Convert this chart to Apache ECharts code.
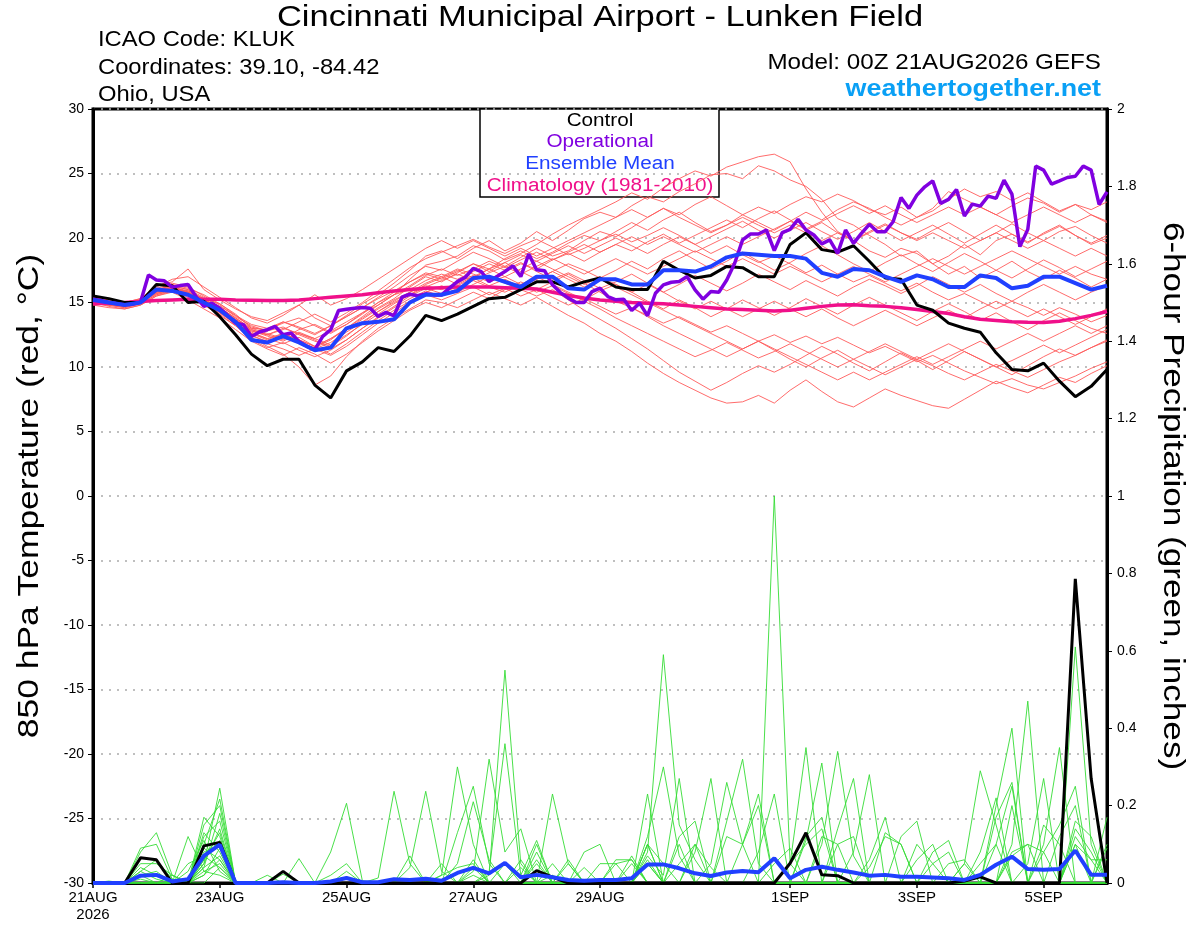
<!DOCTYPE html>
<html lang="en">
<head>
<meta charset="UTF-8">
<title>GEFS 850 hPa Temperature - KLUK</title>
<script src="https://cdn.jsdelivr.net/npm/echarts@6/dist/echarts.min.js"></script>
<style>
    html, body { margin: 0; padding: 0; background: #fff; }
    #main { width: 1200px; height: 927px; }
</style>
</head>
<body>
<div id="main"></div>
<script>
    // forecast hours of the x axis labels (00Z 21AUG2026 = hour 0)
    var tickHours = [0, 48, 96, 144, 192, 264, 312, 360];
    var tickLabels = ['21AUG\n2026', '23AUG', '25AUG', '27AUG', '29AUG', '1SEP', '3SEP', '5SEP'];

    // 850 hPa temperature, 6-hourly (deg C)
    var controlTemp = [15.5,15.3,15.0,15.0,16.4,16.3,15.0,15.1,13.9,12.5,11.0,10.1,10.6,10.6,8.6,7.6,9.7,10.4,11.5,11.2,12.4,14.0,
        13.6,14.1,14.7,15.3,15.4,16.0,16.6,16.6,16.2,16.6,16.9,16.2,16.0,16.0,18.2,17.5,16.9,17.1,17.8,17.7,17.0,17.0,
        19.5,20.4,19.1,18.9,19.4,18.2,16.9,16.8,14.8,14.4,13.4,13.0,12.7,11.1,9.8,9.7,10.3,8.9,7.7,8.5,9.8];
    var meanTemp = [15.2,15.0,14.8,15.0,16.0,15.9,15.6,15.0,14.4,13.5,12.1,11.9,12.4,11.9,11.3,11.5,13.0,13.4,13.5,13.7,15.0,15.6,
        15.6,15.9,16.9,17.0,16.6,16.2,17.0,17.0,16.1,16.0,16.8,16.8,16.4,16.4,17.5,17.5,17.4,17.8,18.5,18.8,18.7,18.6,
        18.6,18.4,17.3,17.0,17.6,17.5,17.0,16.6,17.1,16.8,16.2,16.2,17.1,16.9,16.1,16.3,17.0,17.0,16.5,16.0,16.3];
    var climTemp = [14.9,14.95,15.0,15.08,15.15,15.2,15.25,15.25,15.25,15.2,15.18,15.15,15.15,15.2,15.3,15.4,15.5,15.6,15.75,15.9,
        16.0,16.1,16.15,16.2,16.2,16.2,16.15,16.1,16.05,15.8,15.55,15.35,15.2,15.1,15.0,14.95,14.9,14.8,14.7,14.6,
        14.5,14.45,14.4,14.35,14.4,14.55,14.7,14.8,14.82,14.75,14.7,14.6,14.45,14.3,14.15,13.9,13.7,13.6,13.5,13.47,
        13.45,13.55,13.75,14.0,14.3];
    // operational run, 3-hourly
    var operTemp = [15.26,15.15,15.0,14.9,14.82,14.87,15.03,17.14,16.75,16.68,16.19,16.31,16.39,15.46,14.69,14.95,14.56,14.0,13.4,13.27,
        12.37,12.71,12.89,13.14,12.5,12.63,11.98,11.6,11.34,12.37,12.89,14.38,14.48,14.56,14.61,14.56,13.92,14.23,13.97,15.41,
        15.64,15.52,15.67,15.59,15.59,16.11,16.62,16.96,17.65,17.4,16.62,17.01,17.4,17.84,17.01,18.76,17.53,17.47,16.37,15.77,
        15.34,15.0,15.0,15.85,16.11,15.46,15.21,15.26,14.38,14.95,13.97,15.72,16.37,16.57,16.62,17.01,15.98,15.26,15.85,15.8,
        16.75,18.04,19.85,20.31,20.31,20.62,19.02,20.41,20.67,21.44,20.62,20.23,19.54,19.85,18.81,20.62,19.59,20.36,21.06,20.49,
        20.49,21.26,23.14,22.29,23.32,23.97,24.43,22.68,22.99,23.76,21.7,22.63,22.47,23.25,23.07,24.48,23.4,19.33,20.67,25.57,
        25.26,24.18,24.43,24.69,24.79,25.57,25.26,22.6,23.58];

    // ensemble members, 6-hourly
    var tempMember01 = [15.2,15.0,14.8,15.1,16.0,16.3,16.0,15.2,14.5,13.6,12.8, 12.5,13.0,12.6,12.2,12.8,13.5,14.2,14.8,15.6,16.8,17.9,
        18.2,18.6,19.4,19.0,18.3,18.8,19.5,20.3,21.0,21.6,22.2, 22.8,23.5,23.0,23.9,24.6,25.2,24.8,25.5,25.9,26.3,26.5,
        25.9,23.8,22.0,20.5,19.8,19.0,18.5,19.2,18.8,18.0,18.6, 19.5,18.7,19.8,20.3,19.6,20.4,21.0,20.2,19.5,20.0];
    var tempMember02 = [15.0,14.9,14.7,15.0,15.8,16.5,16.2,15.5,14.8,13.9,13.2, 12.8,13.5,13.0,12.5,13.2,14.0,14.9,15.6,16.5,17.5,18.6,
        19.0,18.4,19.2,19.8,19.0,19.6,20.5,19.8,20.6,21.5,22.0, 21.6,22.5,23.2,22.8,23.6,24.2,24.9,25.0,24.6,25.6,25.2,
        24.5,24.0,23.0,21.5,21.0,20.2,19.5,18.6,19.0,18.0,17.2, 17.8,16.9,17.5,18.2,17.4,16.8,17.5,16.9,16.2,16.8];
    var tempMember03 = [15.3,15.1,15.0,15.3,16.3,16.6,17.6,16.0,15.2,14.5,13.9, 13.6,14.2,14.8,13.8,13.2,13.9,14.6,15.4,16.2,17.1,17.8,
        17.5,18.2,18.9,18.4,17.8,18.5,19.2,18.6,19.0,19.8,20.5, 20.1,20.8,21.6,22.3,21.8,22.6,23.2,22.5,21.8,22.4,21.9,
        22.6,23.2,22.8,23.4,22.9,22.2,21.8,22.4,21.6,22.1,23.0, 23.8,23.2,23.6,22.9,23.5,22.8,22.1,22.6,21.8,21.2];
    var tempMember04 = [15.1,14.9,14.8,15.2,15.9,16.2,15.7,15.0,14.2,13.3,12.4, 12.0,12.3,11.9,11.5,12.1,13.0,13.8,14.6,15.3,16.2,17.0,
        16.6,17.3,18.0,17.6,18.4,19.0,18.4,18.9,19.6,20.2,19.8, 20.5,21.2,20.6,21.4,22.0,21.2,20.5,21.0,21.8,21.2,20.6,
        21.3,22.0,21.4,22.2,22.8,22.3,21.6,21.0,21.6,22.3,23.6, 23.0,22.4,21.8,22.5,23.1,22.7,22.0,22.6,22.2,22.8];
    var tempMember05 = [14.9,14.8,14.6,14.9,15.6,16.0,15.9,15.3,14.9,14.1,13.0, 12.6,12.2,12.9,13.3,12.7,13.3,14.1,15.0,15.8,16.6,17.3,
        17.0,17.6,17.2,16.8,17.4,18.0,17.6,18.3,18.8,18.2,18.9, 19.5,19.0,19.7,20.3,19.6,20.2,20.8,21.4,20.8,21.5,22.1,
        21.4,20.6,21.2,20.4,19.8,20.5,21.1,20.4,19.9,20.6,21.2, 20.5,19.8,20.4,21.1,20.4,19.8,20.5,20.9,20.2,19.6];
    var tempMember06 = [15.4,15.2,15.0,15.2,16.1,16.4,16.1,15.6,14.9,14.0,13.1, 12.8,13.1,12.5,12.0,11.6,12.4,13.4,14.3,15.0,15.6,16.4,
        16.9,17.5,16.9,17.6,18.1,17.4,16.8,17.4,18.0,17.5,16.9, 17.5,18.2,17.6,18.4,19.0,18.3,17.6,18.2,18.9,18.2,17.5,
        18.1,18.8,19.4,18.7,18.0,17.4,18.1,18.7,18.0,17.4,18.1, 18.8,18.2,17.5,16.9,17.6,18.3,17.7,17.0,17.6,18.2];
    var tempMember07 = [15.0,14.7,14.5,14.8,15.5,15.9,15.4,14.8,14.0,13.2,12.1, 11.5,11.9,11.3,10.8,11.3,12.1,13.0,13.8,14.6,15.3,15.9,
        15.5,16.1,16.7,16.2,15.8,16.4,17.0,16.4,15.8,15.2,15.9, 16.4,15.8,15.1,14.5,15.2,14.6,13.9,14.5,15.2,14.6,14.0,
        14.6,15.3,14.7,14.1,14.8,15.4,14.8,14.2,13.6,14.3,14.9, 14.3,13.6,14.2,13.5,12.9,13.6,14.2,13.6,13.0,12.6];
    var tempMember08 = [15.2,15.0,14.9,15.1,15.9,16.2,15.8,15.1,14.3,13.3,12.3, 11.6,11.0,10.0,8.6,9.3,10.8,12.0,13.0,13.8,14.5,15.2,
        15.0,14.6,15.2,15.8,15.3,14.8,15.4,14.7,14.0,13.4,12.6, 12.0,11.2,10.3,9.5,8.8,8.2,7.6,7.2,7.3,7.8,7.2,
        8.2,9.0,8.1,7.3,6.9,7.6,8.3,7.8,7.4,7.0,6.8, 7.5,8.2,8.9,8.4,8.0,8.6,9.2,8.8,9.5,10.1];
    var tempMember09 = [15.1,14.9,14.7,15.0,15.7,16.0,15.6,15.0,14.4,13.6,12.7, 12.2,11.8,12.3,11.6,11.0,11.8,12.7,13.6,14.4,15.1,15.8,
        16.3,15.8,16.4,17.0,16.5,16.0,15.5,16.0,15.2,14.4,13.7, 13.0,12.2,11.4,10.5,9.6,8.9,8.2,8.8,9.5,10.1,9.6,
        10.2,10.9,11.6,11.0,10.3,9.7,10.4,11.1,10.5,9.8,10.5, 11.2,10.6,10.0,9.4,10.1,10.8,11.4,10.9,11.5,12.0];
    var tempMember10 = [15.3,15.1,14.9,15.2,16.0,16.3,16.0,15.4,14.6,13.8,13.0, 12.9,13.4,13.8,13.2,12.6,13.3,14.2,15.0,15.6,16.0,16.7,
        17.2,16.8,17.4,18.0,17.5,18.1,17.4,16.8,17.3,16.7,16.1, 16.6,17.2,16.5,15.8,16.4,17.1,16.5,15.9,16.5,17.2,16.6,
        16.0,16.7,16.1,15.5,16.2,16.8,16.3,15.7,16.3,17.0,16.4, 15.8,16.4,15.7,15.1,15.8,16.4,15.8,15.2,15.8,16.3];
    var tempMember11 = [14.8,14.6,14.5,14.8,15.5,15.8,15.2,14.5,13.8,12.9,12.0, 11.4,10.9,11.5,11.0,10.3,11.0,11.9,12.8,13.6,14.4,15.0,
        14.6,15.2,15.8,15.3,16.0,16.6,16.0,16.6,17.2,16.5,15.8, 15.1,14.6,13.9,13.2,12.6,12.0,11.4,10.8,11.4,12.0,11.3,
        10.6,10.0,10.7,11.3,10.6,10.0,9.4,10.0,10.6,10.1,9.5, 9.0,9.6,10.2,9.7,9.2,9.8,10.4,10.9,11.5,12.1];
    var tempMember12 = [15.2,15.0,14.8,15.1,15.8,16.1,15.8,15.2,14.6,13.8,12.9, 12.5,12.9,13.5,14.1,13.5,14.2,15.0,15.9,16.8,17.7,18.4,
        18.9,19.4,19.9,19.3,18.8,19.4,19.9,19.3,18.7,19.2,19.8, 20.3,19.7,20.2,20.8,20.2,19.5,20.1,20.7,21.3,20.6,20.0,
        20.6,21.2,20.5,19.9,20.5,21.2,20.5,19.8,20.4,21.0,20.3, 19.6,20.3,21.0,20.3,19.7,20.3,20.9,20.2,19.6,20.2];
    var tempMember13 = [15.0,14.8,14.7,15.0,15.8,16.2,15.8,15.2,14.7,14.0,13.3, 13.0,13.5,13.1,12.6,13.2,13.9,14.6,15.3,15.9,16.6,17.2,
        16.8,17.4,18.0,17.4,18.1,18.7,18.2,18.8,19.4,18.8,19.4, 20.0,19.4,18.8,19.5,20.1,19.5,18.8,19.4,18.7,18.1,18.6,
        18.0,17.3,17.9,17.2,16.6,17.1,16.5,15.9,16.5,15.8,15.2, 15.7,15.1,14.5,15.1,14.6,14.0,14.6,14.1,13.5,14.0];
    var tempMember14 = [15.2,15.0,14.8,15.1,15.9,16.2,15.9,15.3,14.5,13.5,12.5, 11.9,12.4,12.0,11.4,11.9,12.7,13.5,14.3,15.1,15.8,16.3,
        16.0,16.5,17.1,16.6,17.0,16.4,15.8,16.3,15.7,15.1,14.5, 13.8,13.2,12.6,12.0,11.4,10.8,11.3,11.9,11.3,10.7,11.2,
        11.8,11.2,10.6,10.0,10.6,11.2,11.8,11.2,10.6,11.2,11.8, 11.2,10.6,10.0,10.5,11.1,11.7,11.1,11.7,12.3,12.9];
    var tempMember15 = [15.1,14.9,14.8,15.1,15.7,16.0,15.6,15.0,14.4,13.5,12.6, 12.1,12.6,12.1,11.6,12.2,12.9,13.7,14.5,15.2,15.8,16.5,
        17.0,16.4,17.0,17.6,17.0,17.6,18.2,17.6,17.0,16.4,17.0, 16.4,15.8,16.4,15.8,15.1,14.5,15.1,14.5,13.9,14.5,15.1,
        14.5,13.9,14.5,13.8,13.2,13.8,14.4,13.8,13.2,13.8,14.4, 13.8,14.5,15.1,14.5,13.9,14.5,13.9,13.3,13.9,14.5];
    var tempMember16 = [15.0,14.8,14.7,15.0,15.7,16.1,15.7,15.0,14.2,13.4,12.6, 12.2,12.6,12.1,11.6,12.2,13.0,13.9,14.8,15.6,16.3,17.1,
        17.6,17.1,17.6,18.2,17.7,18.3,18.9,18.3,18.9,19.5,18.9, 19.5,20.1,19.5,20.1,19.5,18.9,19.5,20.1,19.5,20.1,20.7,
        21.3,20.7,21.3,21.9,22.5,21.9,22.5,21.8,21.2,21.8,22.4, 21.8,22.4,21.8,21.2,21.8,22.4,21.8,21.2,21.8,21.3];
    var tempMember17 = [15.3,15.1,14.9,15.2,15.9,16.2,15.8,15.2,14.6,13.7,12.8, 12.4,12.0,12.6,12.1,11.4,12.1,13.0,13.9,14.7,15.5,16.1,
        15.7,16.3,16.9,16.3,16.8,16.2,16.8,17.4,16.8,16.2,16.8, 16.2,15.6,15.0,14.4,13.8,13.2,12.6,12.0,11.4,12.0,11.4,
        10.8,10.2,9.6,9.0,9.6,9.0,9.6,10.2,10.8,10.2,10.8, 11.4,12.0,11.4,12.0,12.6,12.0,12.6,13.2,12.6,13.2];
    var tempMember18 = [15.1,14.9,14.8,15.0,15.8,16.1,15.7,15.1,14.5,13.7,12.9, 12.5,12.1,12.7,12.2,11.7,12.5,13.3,14.1,14.9,15.6,16.2,
        16.7,17.2,16.7,17.3,17.8,17.2,17.8,18.4,17.8,17.2,17.8, 18.4,17.8,17.2,17.8,18.4,19.0,18.4,17.8,18.4,17.8,17.2,
        17.8,17.2,16.6,17.2,17.8,17.2,16.6,17.2,17.8,18.4,17.8, 17.2,17.8,18.4,19.0,18.4,17.8,17.2,17.8,17.2,16.8];
    var tempMember19 = [15.0,14.8,14.6,14.9,15.6,15.9,15.5,14.9,14.1,13.2,12.2, 11.8,11.4,10.9,11.4,10.9,11.6,12.5,13.4,14.2,15.0,15.6,
        15.2,15.7,16.2,15.6,16.1,15.5,16.0,15.4,14.8,15.3,14.7, 14.1,14.6,14.0,13.4,13.9,13.3,12.7,13.2,12.6,12.0,12.5,
        11.9,12.4,11.8,12.3,11.7,11.1,11.6,11.0,10.4,10.9,10.3, 9.7,9.2,8.7,9.1,8.6,8.3,8.8,9.3,9.9,10.4];
    var tempMember20 = [15.4,15.2,15.0,15.3,16.2,16.8,17.0,16.2,15.4,14.6,13.8, 13.4,14.0,14.8,15.6,14.8,15.3,16.0,16.8,17.6,18.4,19.2,
        19.8,19.2,19.8,19.2,18.6,19.2,18.6,19.2,19.8,20.4,21.0, 21.6,22.2,21.6,22.3,21.6,21.0,20.4,21.0,21.6,21.0,20.4,
        21.0,20.4,19.8,20.4,19.8,20.4,21.0,20.4,19.8,20.4,19.8, 19.2,19.8,20.4,19.8,19.2,19.8,19.2,18.6,19.2,18.6];

    // 6-hour precipitation (inches)
    var controlPrecip = [0,0,0,0.065,0.06,0,0,0.096,0.105,0,0,0,0.03,
        0,0,0,0,0,0,0,0,0,0,0,0,0,
        0,0,0.032,0.015,0,0,0,0,0,0,0,0,0,
        0,0,0,0,0,0.051,0.13,0.021,0.019,0,0,0,0,
        0,0,0,0.005,0.016,0,0,0,0,0,0.786,0.27,0];
    var meanPrecip = [0,0,0,0.019,0.021,0.004,0.01,0.07,0.099,0,0,0,0.002,
        0,0,0.004,0.013,0.002,0.002,0.01,0.008,0.011,0.006,0.026,0.039,0.025,
        0.052,0.015,0.021,0.015,0.008,0.006,0.008,0.008,0.012,0.048,0.048,0.038,0.025,
        0.018,0.027,0.031,0.028,0.064,0.012,0.034,0.042,0.034,0.027,0.019,0.021,0.016,
        0.016,0.014,0.012,0.008,0.021,0.047,0.068,0.036,0.034,0.036,0.084,0.021,0.021];
    var precipMember01 = [0,0.005,0,0.08,0.13,0.02,0,0.05,0.245,0,0,0.02,0,
        0,0,0,0,0,0,0,0,0,0.02,0.04,0.05,0,
        0,0,0.1,0,0,0,0,0,0,0.23,0,0,0,
        0,0,0,0,0,0,0.12,0.17,0,0,0,0,0,
        0,0,0,0,0,0.2,0.4,0,0,0,0,0,0];
    var precipMember02 = [0,0,0,0.09,0.1,0.01,0,0.17,0.12,0,0,0,0,
        0,0,0,0,0,0,0,0,0,0,0,0.04,0,
        0,0,0.08,0,0,0,0,0,0,0.1,0,0,0,
        0,0,0,0,0,0,0.11,0.31,0,0,0,0,0,
        0,0,0,0,0,0.17,0.26,0,0,0,0,0,0];
    var precipMember03 = [0,0,0,0.05,0.05,0.02,0,0.15,0.2,0,0,0,0,
        0.063,0,0,0,0,0,0,0,0,0,0,0.02,0,
        0,0,0.06,0,0,0,0,0,0,0.08,0.59,0.15,0.06,
        0,0,0,0,0,0,0,0.12,0.1,0,0,0,0,
        0,0,0,0,0,0.1,0.25,0,0,0,0,0,0];
    var precipMember04 = [0,0,0,0.03,0.06,0.01,0,0.12,0.16,0,0,0,0.023,
        0,0,0,0,0,0,0,0,0,0,0,0,0,
        0,0,0.05,0,0,0,0,0,0,0.12,0.3,0.07,0,
        0,0,0,0,0,0,0,0.1,0.34,0.07,0,0,0,
        0,0,0,0,0,0,0.2,0,0,0,0,0,0];
    var precipMember05 = [0,0,0,0.04,0.02,0,0,0.1,0.217,0,0,0,0,
        0,0,0.08,0.206,0.006,0,0,0,0,0,0,0,0,
        0,0,0,0.23,0.05,0,0,0,0,0.1,0.05,0,0,
        0,0,0,0,0,0,0,0,0.14,0.27,0,0,0,
        0,0,0,0,0,0,0.1,0.47,0,0,0,0,0];
    var precipMember06 = [0,0,0,0.02,0.03,0,0,0.08,0.1,0,0,0,0,
        0,0,0.02,0.05,0,0,0,0,0,0,0,0,0,
        0,0,0,0.05,0,0,0,0,0,0.07,0.02,0.27,0,
        0,0,0,0,0,0,0,0,0.1,0.12,0,0,0,
        0,0,0,0,0,0,0.08,0.1,0.08,0,0,0,0];
    var precipMember07 = [0,0,0,0.03,0.01,0,0,0.06,0.13,0,0,0,0,
        0,0,0,0.03,0,0,0,0,0,0,0,0,0,
        0,0,0,0.02,0,0,0,0,0,0.1,0,0.1,0,
        0,0,0,0,0,0,0,0,0,0.08,0.28,0,0,
        0,0,0,0,0,0,0.07,0.1,0,0,0,0,0];
    var precipMember08 = [0,0,0,0.02,0.02,0,0,0.13,0.08,0,0,0,0,
        0,0,0,0,0,0.013,0.237,0.05,0,0,0,0,0,
        0,0,0,0,0.06,0,0,0,0,0.05,0,0.12,0.16,
        0,0,0,0,0,0,0,0,0,0,0.06,0.17,0,
        0,0,0,0,0,0,0,0.05,0.27,0,0,0,0];
    var precipMember09 = [0,0,0,0.01,0,0.02,0,0.04,0.18,0,0,0,0,
        0,0,0,0,0,0,0,0.07,0,0,0,0,0,
        0,0,0,0,0.05,0,0,0,0,0.05,0,0.05,0.1,
        0,0,0,0,0,0,0,0,0,0,0.04,0.12,0.1,
        0,0,0,0,0,0,0,0,0.15,0.1,0,0,0];
    var precipMember10 = [0,0,0,0.02,0,0,0,0.09,0.06,0,0,0,0,
        0,0,0,0,0,0,0,0.04,0.237,0.03,0,0,0,
        0,0,0,0,0,0.08,0.1,0,0,0,0,0,0.1,
        0.04,0,0,0,0,0,0,0,0,0,0,0.13,0.1,
        0,0,0,0,0,0,0,0,0.1,0.35,0,0,0];
    var precipMember11 = [0,0,0,0,0,0,0.12,0.03,0.05,0,0,0,0,
        0,0,0,0,0,0,0,0,0,0.05,0,0,0,
        0,0,0,0,0,0.04,0,0,0,0,0,0,0.08,
        0.27,0,0,0,0,0,0,0,0,0,0,0,0.12,
        0.16,0,0,0,0,0,0,0,0.08,0.15,0.25,0,0];
    var precipMember12 = [0,0,0,0,0,0,0.05,0.07,0.04,0,0,0,0,
        0,0,0,0,0,0,0,0,0,0.02,0.3,0.1,0,
        0,0,0,0,0,0,0.05,0.05,0,0,0,0,0,
        0.05,0.26,0.1,0,0,0,0,0,0,0,0,0,0,
        0.1,0.05,0,0,0,0,0,0,0,0.12,0.2,0,0];
    var precipMember13 = [0,0,0,0,0,0,0.03,0.11,0.03,0,0,0,0,
        0,0,0,0,0,0,0,0,0,0,0.13,0.25,0.05,
        0,0,0,0,0,0,0,0.06,0.06,0,0,0,0,
        0,0.16,0.32,0.05,0,0,0,0,0,0,0,0,0,
        0.06,0.1,0,0,0,0,0,0,0,0,0.61,0.1,0];
    var precipMember14 = [0,0,0,0,0,0,0,0.05,0.14,0,0,0,0,
        0,0,0,0,0,0,0,0,0,0,0.05,0.21,0.06,
        0,0,0,0,0,0,0,0.05,0.06,0,0,0,0,
        0,0.12,0.1,0.23,0,0,0,0,0,0,0,0,0,
        0,0.08,0.11,0,0,0,0,0,0,0,0.16,0.12,0];
    var precipMember15 = [0,0,0,0,0,0,0,0.02,0.09,0,0,0,0,
        0,0,0,0,0,0,0,0,0,0,0,0.03,0.32,
        0.08,0.14,0,0,0,0,0,0,0.07,0,0,0,0,
        0,0,0.1,0.2,0,0,0,0,0,0,0,0,0,
        0,0.05,0.08,0,0,0,0,0,0,0,0.14,0.08,0];
    var precipMember16 = [0,0,0,0,0,0,0,0.06,0.11,0,0,0,0,
        0,0,0,0,0,0,0,0,0,0,0,0,0.02,
        0.55,0.05,0,0,0,0,0,0,0.05,0,0,0,0,
        0,0,0,0.08,0.23,0,0,0,0,0,0,0,0,
        0,0,0.05,0.06,0,0,0,0,0,0,0.12,0.06,0];
    var precipMember17 = [0,0,0,0,0,0,0,0.04,0.07,0,0,0,0,
        0,0,0,0,0,0,0,0,0,0,0,0,0.03,
        0.36,0.02,0.11,0,0,0,0,0,0,0.06,0,0,0,
        0,0,0,0,1.0,0.05,0,0,0,0,0,0,0,
        0,0,0,0.05,0,0,0,0,0,0,0.1,0.06,0.06];
    var precipMember18 = [0,0,0,0,0,0,0,0.03,0.02,0,0,0,0,
        0,0,0,0,0,0,0,0,0,0,0,0.06,0,
        0.05,0,0,0,0,0,0,0,0,0,0,0,0,
        0,0,0,0,0.05,0.09,0,0,0,0,0,0,0,
        0,0,0,0.05,0.29,0.15,0,0,0,0,0.1,0,0.17];
    var precipMember19 = [0,0,0,0,0,0,0,0,0.04,0,0,0,0,
        0,0,0,0,0,0,0,0,0,0,0,0,0,
        0,0.06,0,0,0,0,0,0,0,0,0,0,0,
        0,0,0,0,0,0.05,0.35,0,0,0,0,0,0,
        0,0,0,0,0.08,0.22,0,0,0,0,0,0,0.1];
    var precipMember20 = [0,0,0,0,0,0,0,0.02,0.06,0,0,0,0,
        0,0,0,0,0,0,0,0,0,0,0,0,0,
        0,0.04,0,0,0,0,0,0,0,0,0,0,0,
        0,0,0,0,0,0.05,0.1,0.14,0,0,0,0,0,
        0,0,0,0,0.05,0.1,0,0,0,0,0,0,0.09];

    var tempMembers = [tempMember01, tempMember02, tempMember03, tempMember04, tempMember05,
        tempMember06, tempMember07, tempMember08, tempMember09, tempMember10,
        tempMember11, tempMember12, tempMember13, tempMember14, tempMember15,
        tempMember16, tempMember17, tempMember18, tempMember19, tempMember20];
    var precipMembers = [precipMember01, precipMember02, precipMember03, precipMember04, precipMember05,
        precipMember06, precipMember07, precipMember08, precipMember09, precipMember10,
        precipMember11, precipMember12, precipMember13, precipMember14, precipMember15,
        precipMember16, precipMember17, precipMember18, precipMember19, precipMember20];

    var FONT = '"Liberation Sans", Arial, Helvetica, sans-serif';

    // values -> [forecast hour, value]
    function withHours(values, step) {
        return values.map(function (v, i) { return [i * step, v]; });
    }

    function line(data, axis, color, width, z) {
        return {
            type: 'line',
            yAxisIndex: axis,
            data: data,
            showSymbol: false,
            symbol: 'none',
            silent: true,
            z: z,
            lineStyle: { color: color, width: width }
        };
    }

    // the original font is wide, so texts are stretched a little
    function label(text, x, y, size, color, align, stretch, extra) {
        var el = {
            type: 'text', x: x, y: y, scaleX: stretch,
            style: {
                text: text, font: size + 'px ' + FONT, fill: color,
                textAlign: align, textVerticalAlign: 'middle'
            }
        };
        if (extra) {
            for (var k in extra) { el[k] = extra[k]; }
        }
        return el;
    }

    var series = [];
    precipMembers.forEach(function (m) {
        series.push(line(withHours(m, 6), 1, '#35dd35', 0.9, 2));
    });
    tempMembers.forEach(function (m) {
        series.push(line(withHours(m, 6), 0, '#ff5a5a', 0.9, 2));
    });
    series.push(line(withHours(controlPrecip, 6), 1, '#000000', 3, 4));
    series.push(line(withHours(meanPrecip, 6), 1, '#2040ff', 4, 5));
    series.push(line(withHours(climTemp, 6), 0, '#f0108a', 3.5, 3));
    series.push(line(withHours(controlTemp, 6), 0, '#000000', 3, 4));
    series.push(line(withHours(operTemp, 3), 0, '#8000e0', 3.5, 5));
    series.push(line(withHours(meanTemp, 6), 0, '#2040ff', 4, 6));

    var myChart = echarts.init(document.getElementById('main'));
    var option = {
        animation: false,
        backgroundColor: '#ffffff',
        textStyle: { fontFamily: FONT },
        grid: {
            left: 93, right: 93, top: 109, bottom: 44,
            show: true, borderColor: '#000', borderWidth: 3
        },
        xAxis: {
            type: 'value',
            min: 0,
            max: 384,
            axisLine: { show: true, onZero: false, lineStyle: { color: '#000', width: 3 } },
            axisTick: { show: true, customValues: tickHours, length: 5, lineStyle: { color: '#000', width: 1.5 } },
            axisLabel: {
                customValues: tickHours,
                color: '#000',
                fontSize: 15,
                lineHeight: 17,
                margin: 6,
                formatter: function (v) {
                    var k = tickHours.indexOf(v);
                    return k >= 0 ? tickLabels[k] : '';
                }
            },
            splitLine: { show: false }
        },
        yAxis: [
            {
                type: 'value',
                position: 'left',
                min: -30,
                max: 30,
                interval: 5,
                axisLine: { show: true, onZero: false, lineStyle: { color: '#000', width: 3 } },
                axisTick: { show: true, length: 5, lineStyle: { color: '#000' } },
                axisLabel: { color: '#000', fontSize: 14, margin: 9 },
                splitLine: { show: true, lineStyle: { color: '#aaaaaa', type: [2, 6], width: 1.5 } }
            },
            {
                type: 'value',
                position: 'right',
                min: 0,
                max: 2,
                interval: 0.2,
                axisLine: { show: true, onZero: false, lineStyle: { color: '#000', width: 3 } },
                axisTick: { show: true, length: 5, lineStyle: { color: '#000' } },
                axisLabel: { color: '#000', fontSize: 14, margin: 10 },
                splitLine: { show: false }
            }
        ],
        graphic: [
            label('Cincinnati Municipal Airport - Lunken Field', 600, 18, 30, '#000', 'center', 1.15),
            label('ICAO Code: KLUK', 98, 40, 22, '#000', 'left', 1.08),
            label('Coordinates: 39.10, -84.42', 98, 68, 22, '#000', 'left', 1.08),
            label('Ohio, USA', 98, 95, 22, '#000', 'left', 1.08),
            label('Model: 00Z 21AUG2026 GEFS', 1101, 63, 22, '#000', 'right', 1.1),
            {
                type: 'text', x: 1101, y: 89, scaleX: 1.12,
                style: {
                    text: 'weathertogether.net', font: 'bold 24px ' + FONT, fill: '#0aa0f5',
                    textAlign: 'right', textVerticalAlign: 'middle'
                }
            },
            label('850 hPa Temperature (red, \u00B0C)', 30, 496, 30, '#000', 'center', 1.18, { rotation: Math.PI / 2 }),
            label('6-hour Precipitation (green, inches)', 1172, 496, 30, '#000', 'center', 1.17, { rotation: -Math.PI / 2 }),
            {
                type: 'group', z: 100,
                children: [
                    { type: 'rect', shape: { x: 480, y: 109, width: 239, height: 88 }, style: { fill: '#fff', stroke: '#000', lineWidth: 1.5 } },
                    label('Control', 600, 121, 18, '#000', 'center', 1.15),
                    label('Operational', 600, 142, 18, '#8000e0', 'center', 1.15),
                    label('Ensemble Mean', 600, 164, 18, '#2040ff', 'center', 1.15),
                    label('Climatology (1981-2010)', 600, 186, 18, '#f0108a', 'center', 1.15)
                ]
            }
        ],
        series: series
    };
    myChart.setOption(option);
</script>
</body>
</html>
